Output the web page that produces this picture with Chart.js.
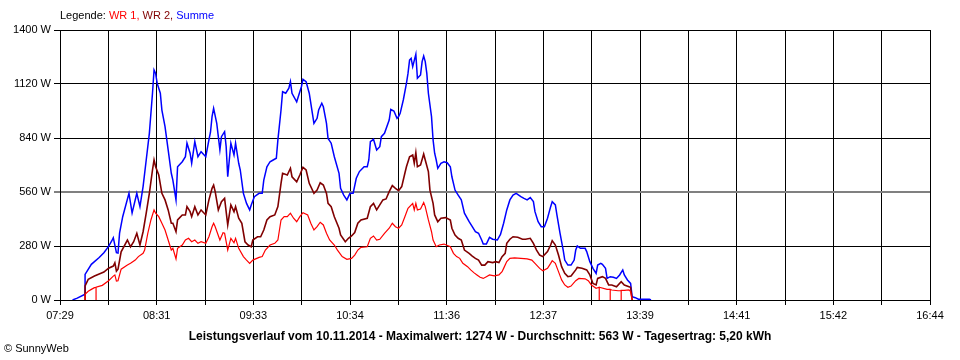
<!DOCTYPE html>
<html><head><meta charset="utf-8">
<script src="https://cdn.jsdelivr.net/npm/chart.js@4/dist/chart.umd.min.js"></script>
<style>
body{margin:0;background:#fff;}
#wrap{position:relative;width:960px;height:360px;font-family:"Liberation Sans",Arial,sans-serif;color:#000;}
canvas{position:absolute;left:0;top:0;}
.t{position:absolute;white-space:nowrap;font-size:11px;line-height:13px;}
</style></head><body>
<div id="wrap">
<canvas id="c" width="960" height="360"></canvas>
<div class="t" style="left:60px;top:9px">Legende: <span style="color:#ff0000">WR 1,</span> <span style="color:#800000">WR 2,</span> <span style="color:#0000ff">Summe</span></div>
<div class="t" id="title" style="left:0;width:960px;text-align:center;top:330px;font-weight:bold;font-size:12px;">Leistungsverlauf vom 10.11.2014 - Maximalwert: 1274 W - Durchschnitt: 563 W - Tagesertrag: 5,20 kWh</div>
<div class="t" style="left:4px;top:342px">© SunnyWeb</div>
</div>
<script>
// x values are minutes since midnight
const xMin = 449, xMax = 1004;
const tickLabels = ['07:29','08:31','09:33','10:34','11:36','12:37','13:39','14:41','15:42','16:44'];
const yTicks = [0,280,560,840,1120,1400];

const summe = [[457,0],[460,10],[465,30],[465,133],[469,185],[474,220],[477,245],[480,278],[482,306],[483,323],[485,245],[486,243],[487,347],[489,432],[493,553],[495,451],[498,553],[500,484],[502,588],[504,726],[506,864],[508,1072],[509,1193],[510,1175],[511,1123],[513,1072],[514,985],[516,899],[518,778],[520,657],[521,622],[523,519],[524,691],[527,717],[529,743],[530,813],[532,761],[533,709],[535,821],[537,743],[539,769],[542,743],[544,830],[545,870],[546,951],[547,994],[549,916],[551,778],[552,847],[554,873],[555,795],[556,639],[558,813],[560,752],[561,813],[563,709],[564,674],[566,553],[568,501],[570,467],[571,493],[573,536],[576,553],[578,553],[579,622],[581,691],[583,717],[585,726],[587,735],[588,830],[590,985],[591,1080],[593,1072],[595,1098],[596,1132],[597,1072],[600,1028],[601,1054],[603,1106],[604,1144],[606,1132],[608,1072],[610,968],[611,916],[613,942],[614,985],[616,1020],[617,1002],[619,916],[620,838],[622,813],[624,743],[627,657],[628,579],[630,544],[632,519],[634,553],[636,553],[638,631],[640,666],[643,691],[645,691],[646,726],[647,821],[649,833],[651,778],[653,795],[654,847],[656,864],[659,933],[660,988],[662,980],[664,942],[665,951],[666,968],[668,1037],[670,1123],[671,1175],[672,1244],[673,1253],[674,1210],[676,1274],[677,1150],[679,1167],[680,1236],[681,1265],[682,1236],[683,1175],[684,1072],[686,951],[687,830],[688,761],[689,726],[690,683],[692,709],[694,717],[696,712],[698,691],[699,639],[701,570],[703,544],[705,519],[707,450],[710,406],[712,380],[714,354],[716,346],[718,311],[719,290],[721,290],[723,325],[725,315],[728,311],[730,340],[732,398],[734,467],[736,519],[738,544],[740,553],[743,536],[745,527],[747,519],[749,531],[751,510],[752,458],[754,406],[756,380],[758,380],[760,424],[762,484],[763,510],[765,493],[766,441],[768,346],[770,259],[771,207],[773,181],[775,181],[777,207],[778,259],[779,280],[781,268],[784,268],[785,251],[787,199],[789,164],[791,138],[792,181],[794,190],[795,185],[797,164],[798,112],[800,121],[802,118],[804,112],[806,130],[808,156],[809,130],[811,104],[813,86],[814,17],[816,12],[818,4],[825,4],[826,0]];

const wr2 = [[465,0],[465,73],[467,107],[471,124],[474,135],[477,145],[480,165],[483,176],[484,193],[485,150],[486,160],[488,250],[492,311],[494,276],[496,302],[498,346],[500,285],[502,354],[504,450],[506,553],[508,674],[509,726],[510,691],[512,648],[514,553],[516,519],[518,467],[520,398],[521,398],[523,354],[524,415],[527,441],[529,441],[530,484],[532,458],[533,432],[535,484],[537,441],[539,467],[542,441],[544,519],[546,579],[547,596],[548,562],[550,467],[552,510],[554,527],[556,389],[558,493],[560,458],[561,484],[563,424],[565,398],[567,302],[569,285],[571,276],[572,311],[575,328],[577,328],[579,363],[581,415],[583,432],[586,441],[588,484],[590,605],[591,657],[594,648],[596,683],[597,639],[600,613],[602,648],[604,688],[606,674],[608,605],[611,553],[613,570],[615,608],[617,596],[619,553],[620,501],[622,484],[624,432],[627,372],[628,337],[631,302],[633,320],[635,332],[637,350],[639,398],[641,415],[645,424],[647,484],[649,501],[651,467],[653,493],[655,519],[657,524],[659,562],[661,593],[663,579],[665,567],[667,588],[669,657],[670,691],[672,743],[674,752],[675,709],[676,764],[677,691],[679,700],[681,757],[682,726],[684,666],[685,570],[687,501],[688,441],[690,406],[692,424],[695,427],[698,415],[699,372],[701,337],[703,320],[705,311],[707,259],[710,242],[712,228],[714,216],[716,207],[718,181],[720,181],[722,199],[725,194],[727,199],[729,194],[731,225],[733,242],[734,294],[736,315],[738,328],[741,325],[744,315],[746,315],[749,320],[751,294],[753,259],[755,233],[757,225],[760,251],[762,285],[763,308],[765,285],[767,233],[769,173],[771,138],[773,121],[775,124],[778,156],[779,169],[782,165],[785,156],[787,130],[789,86],[791,78],[792,112],[795,121],[797,112],[799,78],[801,78],[804,69],[807,95],[809,78],[812,69],[813,66],[814,0]];

const wr1 = [[465,0],[465,30],[467,45],[469,55],[471,64],[472,66],[472,0],[472,66],[476,76],[480,100],[483,124],[484,130],[485,98],[486,100],[488,160],[492,181],[494,190],[497,207],[499,225],[502,242],[503,259],[505,346],[507,415],[509,467],[510,450],[512,432],[514,398],[516,363],[518,311],[520,259],[521,268],[523,213],[524,268],[527,285],[529,311],[531,320],[533,302],[535,311],[537,294],[539,302],[542,294],[544,328],[546,380],[547,398],[548,380],[551,311],[553,349],[554,346],[556,259],[558,320],[560,297],[561,320],[563,268],[566,225],[568,207],[570,190],[572,207],[576,221],[578,225],[580,259],[583,285],[586,294],[588,311],[590,415],[592,432],[594,432],[596,450],[598,424],[600,406],[602,432],[604,453],[607,441],[609,398],[611,363],[613,380],[615,403],[617,389],[619,346],[621,311],[624,285],[626,259],[629,225],[632,211],[635,216],[637,233],[639,259],[641,273],[645,276],[647,320],[649,332],[651,311],[653,315],[656,346],[659,372],[661,398],[663,380],[665,372],[667,389],[669,432],[671,475],[674,501],[675,467],[676,501],[677,467],[679,472],[681,505],[682,484],[684,415],[686,354],[687,311],[689,276],[691,285],[694,290],[698,276],[700,242],[702,225],[704,216],[706,190],[709,173],[711,156],[713,142],[715,130],[717,118],[719,112],[721,121],[723,130],[726,125],[729,130],[731,147],[732,164],[734,199],[736,216],[739,218],[743,216],[747,213],[750,207],[752,190],[755,164],[757,152],[760,164],[762,190],[763,204],[765,190],[767,147],[769,104],[771,78],[773,66],[775,72],[778,100],[780,112],[784,110],[786,100],[788,78],[791,61],[793,66],[793,0],[793,66],[798,55],[800,55],[800,0],[800,55],[801,52],[805,48],[807,48],[807,0],[807,50],[809,50],[812,52],[813,43],[814,0]];

const toXY = a => a.map(p => ({x: p[0], y: p[1]}));
Chart.defaults.font.family = '"Liberation Sans", Arial, sans-serif';
Chart.defaults.font.size = 11;
Chart.defaults.color = '#000';

new Chart(document.getElementById('c'), {
  type: 'line',
  data: { datasets: [
    { label: 'Summe', data: toXY(summe), borderColor: '#0000ff', borderWidth: 1.5, order: 3 },
    { label: 'WR 2', data: toXY(wr2), borderColor: '#800000', borderWidth: 1.6, order: 2 },
    { label: 'WR 1', data: toXY(wr1), borderColor: '#ff0000', borderWidth: 1.2, order: 1 }
  ]},
  options: {
    responsive: false, animation: false, devicePixelRatio: 1,
    layout: { padding: { left: 0, right: 30, top: 30, bottom: 0 } },
    elements: { point: { radius: 0 }, line: { tension: 0 } },
    plugins: { legend: { display: false }, tooltip: { enabled: false } },
    scales: {
      x: {
        type: 'linear', min: xMin, max: xMax,
        afterBuildTicks: s => {
          const n = (tickLabels.length - 1) * 2;
          const t = [];
          for (let i = 0; i <= n; i++) t.push({ value: xMin + i * (xMax - xMin) / n });
          s.ticks = t;
        },
        afterFit: s => { s.height = 60; },
        grid: { color: '#000', lineWidth: 1, tickLength: 5 },
        border: { color: '#000' },
        ticks: { autoSkip: false, maxRotation: 0, padding: 4,
          callback: (v, i) => (i % 2 === 0 ? tickLabels[i / 2] : '') }
      },
      y: {
        min: 0, max: 1400,
        afterBuildTicks: s => { s.ticks = yTicks.map(v => ({ value: v })); },
        afterFit: s => { s.width = 60; },
        grid: {
          color: c => (c.tick && c.tick.value === 560 ? '#808080' : '#000'),
          lineWidth: c => (c.tick && c.tick.value === 560 ? 2 : 1),
          tickLength: 6
        },
        border: { color: '#000' },
        ticks: { padding: 3, callback: v => v + ' W' }
      }
    }
  }
});
</script>
</body></html>
